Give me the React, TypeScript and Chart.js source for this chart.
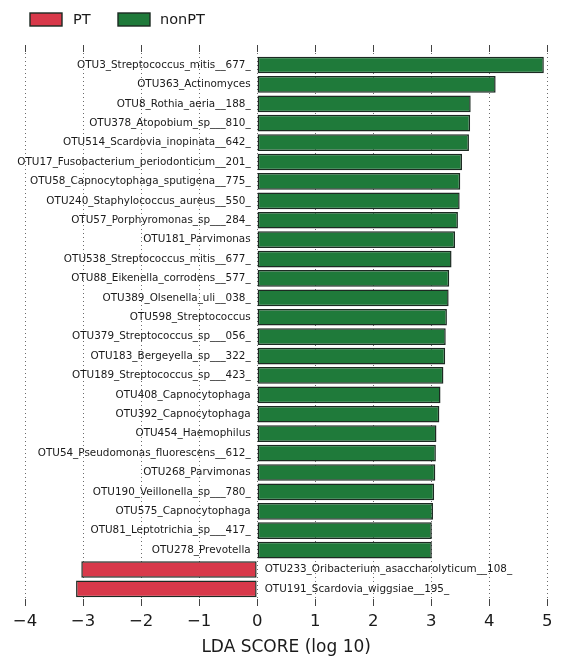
import React, { useEffect, useRef } from "react";
import { Chart, registerables } from "chart.js";

Chart.register(...registerables);

const otuNames = [
  "OTU3_Streptococcus_mitis__677_",
  "OTU363_Actinomyces",
  "OTU8_Rothia_aeria__188_",
  "OTU378_Atopobium_sp___810_",
  "OTU514_Scardovia_inopinata__642_",
  "OTU17_Fusobacterium_periodonticum__201_",
  "OTU58_Capnocytophaga_sputigena__775_",
  "OTU240_Staphylococcus_aureus__550_",
  "OTU57_Porphyromonas_sp___284_",
  "OTU181_Parvimonas",
  "OTU538_Streptococcus_mitis__677_",
  "OTU88_Eikenella_corrodens__577_",
  "OTU389_Olsenella_uli__038_",
  "OTU598_Streptococcus",
  "OTU379_Streptococcus_sp___056_",
  "OTU183_Bergeyella_sp___322_",
  "OTU189_Streptococcus_sp___423_",
  "OTU408_Capnocytophaga",
  "OTU392_Capnocytophaga",
  "OTU454_Haemophilus",
  "OTU54_Pseudomonas_fluorescens__612_",
  "OTU268_Parvimonas",
  "OTU190_Veillonella_sp___780_",
  "OTU575_Capnocytophaga",
  "OTU81_Leptotrichia_sp___417_",
  "OTU278_Prevotella",
  "OTU233_Oribacterium_asaccharolyticum__108_",
  "OTU191_Scardovia_wiggsiae__195_",
];

const ldaScores = [
  4.94, 4.11, 3.68, 3.67, 3.65, 3.53, 3.5, 3.49, 3.46, 3.41, 3.35, 3.31, 3.3,
  3.27, 3.25, 3.24, 3.21, 3.16, 3.14, 3.09, 3.08, 3.07, 3.05, 3.03, 3.01, 3.01,
  -3.03, -3.12,
];

const groups = [
  "nonPT", "nonPT", "nonPT", "nonPT", "nonPT", "nonPT", "nonPT", "nonPT",
  "nonPT", "nonPT", "nonPT", "nonPT", "nonPT", "nonPT", "nonPT", "nonPT",
  "nonPT", "nonPT", "nonPT", "nonPT", "nonPT", "nonPT", "nonPT", "nonPT",
  "nonPT", "nonPT", "PT", "PT",
];

const legendGroups = ["PT", "nonPT"];
const xTickValues = [-4, -3, -2, -1, 0, 1, 2, 3, 4, 5];
const xTitle = "LDA SCORE (log 10)";

const COLORS: Record<string, string> = { PT: "#d8394a", nonPT: "#1f7a3a" };
const FONT = "'DejaVu Sans', sans-serif";

export default function App() {
  const ref = useRef<HTMLCanvasElement | null>(null);

  useEffect(() => {
    if (!ref.current) return;

    const datasets = legendGroups.map((g) => ({
      label: g,
      data: ldaScores
        .map((v, i) => ({ x: v, y: i, g: groups[i] }))
        .filter((p) => p.g === g)
        .map((p) => ({ x: p.x, y: p.y })),
      backgroundColor: COLORS[g],
      borderColor: "#1c2a22",
      borderWidth: 1.5,
      borderSkipped: false,
      grouped: false,
      barPercentage: 0.86,
      categoryPercentage: 1,
    }));

    const decorations = {
      id: "decorations",
      afterDraw(chart: any) {
        const { ctx, chartArea, scales } = chart;
        const xs = scales.x;
        const ys = scales.y;
        ctx.save();
        ctx.strokeStyle = "#444";
        ctx.lineWidth = 1;
        xTickValues.forEach((v) => {
          const px = Math.round(xs.getPixelForValue(v)) + 0.5;
          ctx.beginPath();
          ctx.moveTo(px, chartArea.top);
          ctx.lineTo(px, chartArea.top + 7);
          ctx.moveTo(px, chartArea.bottom - 7);
          ctx.lineTo(px, chartArea.bottom);
          ctx.stroke();
        });
        ctx.font = `10.4px ${FONT}`;
        ctx.fillStyle = "#1a1a1a";
        ctx.textBaseline = "middle";
        const x0 = xs.getPixelForValue(0);
        otuNames.forEach((name, i) => {
          const y = ys.getPixelForValue(i);
          if (ldaScores[i] >= 0) {
            ctx.textAlign = "right";
            ctx.fillText(name, x0 - 6.5, y);
          } else {
            ctx.textAlign = "left";
            ctx.fillText(name, x0 + 7.5, y);
          }
        });
        ctx.font = `14.5px ${FONT}`;
        ctx.textAlign = "left";
        const legendPos = [
          { box: 30, text: 73 },
          { box: 118, text: 160 },
        ];
        legendGroups.forEach((g, k) => {
          const p = legendPos[k];
          ctx.fillStyle = COLORS[g];
          ctx.fillRect(p.box, 13, 32, 13);
          ctx.strokeStyle = "#1c2a22";
          ctx.lineWidth = 1.4;
          ctx.strokeRect(p.box, 13, 32, 13);
          ctx.fillStyle = "#1a1a1a";
          ctx.fillText(g, p.text, 20);
        });
        ctx.restore();
      },
    };

    const chart = new Chart(ref.current, {
      type: "bar",
      data: { datasets: datasets as any },
      options: {
        indexAxis: "y",
        animation: false,
        responsive: false,
        maintainAspectRatio: false,
        layout: { padding: { left: 25, right: 15.7, top: 45, bottom: 2.3 } },
        plugins: {
          legend: { display: false },
          tooltip: { enabled: false },
        },
        scales: {
          y: {
            type: "linear",
            reverse: true,
            min: -1.03,
            max: 27.88,
            offset: false,
            bounds: "data",
            grid: { offset: false },
            display: false,
          },
          x: {
            type: "linear",
            min: -4,
            max: 5,
            z: 1,
            afterBuildTicks: (axis: any) => {
              axis.ticks = xTickValues.map((v) => ({ value: v }));
            },
            grid: {
              color: "rgba(70,70,70,0.8)",
              lineWidth: 1,
              drawTicks: false,
            },
            border: { display: false, dash: [1, 3] },
            ticks: {
              padding: 6.3,
              color: "#1a1a1a",
              font: { family: FONT, size: 16.5, lineHeight: 1.2 },
              callback: (v: any) => String(v).replace("-", "\u2212"),
            },
            title: {
              display: true,
              text: xTitle,
              color: "#1a1a1a",
              font: { family: FONT, size: 17, lineHeight: 1.0 },
              padding: { top: 0.3, bottom: 0 },
            },
          },
        },
      },
      plugins: [decorations],
    });

    return () => chart.destroy();
  }, []);

  return (
    <div style={{ position: "fixed", left: 0, top: 0, width: 563, height: 658, background: "#fff" }}>
      <canvas ref={ref} width={563} height={658} style={{ display: "block" }} />
    </div>
  );
}
